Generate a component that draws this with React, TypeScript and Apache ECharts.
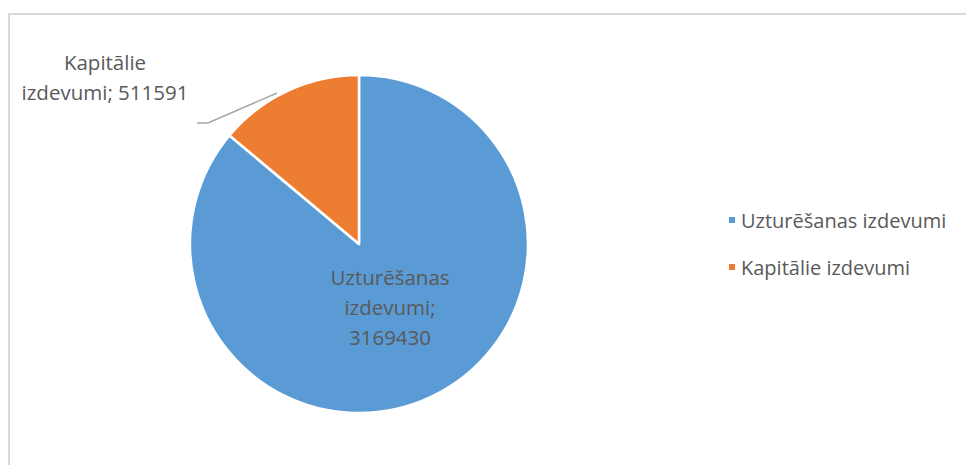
import React, { useEffect, useRef } from "react";
import * as echarts from "echarts";

const categories: string[] = ["Uzturēšanas izdevumi", "Kapitālie izdevumi"];
const values: number[] = [3169430, 511591];
const colors: string[] = ["#5b9bd5", "#ed7d31"];
const labelTexts: string[] = ["Uzturēšanas\nizdevumi;\n", "Kapitālie\nizdevumi; "];

const FONT = "'Open Sans', 'Noto Sans', sans-serif";
const TEXT = "#595959";

export default function App() {
  const ref = useRef<HTMLDivElement>(null);
  useEffect(() => {
    if (!ref.current) return;
    const chart = echarts.init(ref.current, null, { renderer: "svg" });
    chart.setOption({
      animation: false,
      backgroundColor: "#ffffff",
      textStyle: { fontFamily: FONT, color: TEXT },
      graphic: [
        {
          type: "rect",
          shape: { x: 9, y: 14, width: 1000, height: 500 },
          style: { fill: "none", stroke: "#d9d9d9", lineWidth: 2 },
          silent: true,
        },
      ],
      legend: {
        orient: "vertical",
        left: 722,
        top: 203,
        icon: "rect",
        itemWidth: 8,
        itemHeight: 8,
        itemGap: 23,
        data: categories,
        textStyle: {
          fontFamily: FONT,
          fontSize: 20,
          color: TEXT,
          lineHeight: 24,
        },
      },
      series: [
        {
          type: "pie",
          center: [359, 244],
          radius: 169,
          startAngle: 90,
          clockwise: true,
          itemStyle: { borderColor: "#ffffff", borderWidth: 2.5 },
          label: {
            fontFamily: FONT,
            fontSize: 20.5,
            color: TEXT,
            lineHeight: 30,
          },
          data: categories.map((name, i) => ({
            name,
            value: values[i],
            itemStyle: { color: colors[i] },
            label: {
              show: true,
              position: i === 0 ? "inside" : "outside",
              formatter: (p: any) => labelTexts[i] + p.value,
            },
            labelLine: {
              show: i === 1,
              lineStyle: { color: "#a6a6a6", width: 1.5 },
            },
          })),
          labelLayout: (params: any) => {
            if (params.dataIndex === 1) {
              return {
                x: 105,
                y: 77,
                align: "center",
                verticalAlign: "middle",
                labelLinePoints: [
                  [277, 93],
                  [208, 123],
                  [197, 123],
                ],
              };
            }
            return { x: 390, y: 307, align: "center", verticalAlign: "middle" };
          },
        },
      ],
    });
    return () => chart.dispose();
  }, []);
  return (
    <div
      ref={ref}
      style={{ position: "fixed", left: 0, top: 0, width: 966, height: 465 }}
    />
  );
}
